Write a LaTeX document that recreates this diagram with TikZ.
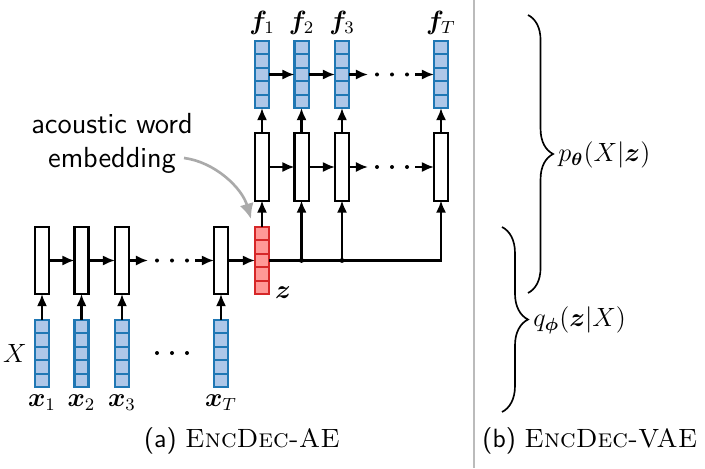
\documentclass[tikz,border=0pt]{standalone}
\usepackage{amsmath,bm}
\usetikzlibrary{arrows.meta,decorations.pathreplacing,calc}
\definecolor{vblue}{HTML}{1F77B4}
\definecolor{vbluefill}{HTML}{AEC7E8}
\definecolor{vred}{HTML}{D62728}
\definecolor{vredfill}{HTML}{FF9896}
\definecolor{agray}{HTML}{AAAAAA}
\definecolor{sgray}{HTML}{BBBBBB}
\newcommand\mycells[2]{\foreach \i in {1,...,4}{\draw[#2,line width=0.9pt] ($(#1.north west)!\i/5!(#1.south west)$) -- ($(#1.north east)!\i/5!(#1.south east)$);}}
\begin{document}
\begin{tikzpicture}[x=0.4545pt,y=-0.4545pt,
 font=\fontsize{12}{14.4}\selectfont,
 cellbox/.style={draw,line width=0.95pt,fill=white,minimum width=6.4pt,minimum height=30.5pt,inner sep=0pt,outer sep=0pt},
 vecb/.style={cellbox,draw=vblue,fill=vbluefill},
 vecr/.style={cellbox,draw=vred,fill=vredfill},
 arr/.style={-{Latex[length=5.5pt,width=4.6pt]},line width=0.95pt},
 lbl/.style={inner sep=0pt}]
\useasboundingbox (0,0) rectangle (705,468);
% encoder
\foreach \n/\x in {e1/42,e2/81.5,e3/122,eT/221}{
  \node[cellbox] (\n) at (\x,260.5) {};
}
\node[vecr] (z) at (262,260.5) {};
\mycells{z}{vred}
\foreach \n/\x in {x1/42,x2/81.5,x3/122,xT/221}{
  \node[vecb] (\n) at (\x,353.5) {};
  \mycells{\n}{vblue}
}
% decoder
\foreach \n/\x in {d1/262,d2/301.5,d3/342,dT/441}{
  \node[cellbox] (\n) at (\x,167) {};
}
\foreach \n/\x in {f1/262,f2/301.5,f3/342,fT/441}{
  \node[vecb] (\n) at (\x,74.5) {};
  \mycells{\n}{vblue}
}
% encoder arrows
\draw[arr] (e1.east) -- (e2.west);
\draw[arr] (e2.east) -- (e3.west);
\coordinate (ea) at (148,260.5);
\coordinate (eb) at (195,260.5);
\draw[arr] (e3.east) -- (ea);
\draw[arr] (eb) -- (eT.west);
\draw[arr] (eT.east) -- (z.west);
\foreach \a/\b in {x1/e1,x2/e2,x3/e3,xT/eT}{\draw[arr] (\a.north) -- (\b.south);}
\foreach \x in {157,172,187}{\fill (\x,260.5) circle (2); \fill (\x,353) circle (2);}
% decoder arrows
\draw[arr] (z.north) -- (d1.south);
\draw[arr] (z.east) -| (dT.south);
\draw[arr] (d2.south |- z.east) -- (d2.south);
\draw[arr] (d3.south |- z.east) -- (d3.south);
\fill (d2.south |- z.east) circle (2.4);
\fill (d3.south |- z.east) circle (2.4);
\draw[arr] (d1.east) -- (d2.west);
\draw[arr] (d2.east) -- (d3.west);
\draw[arr] (f1.east) -- (f2.west);
\draw[arr] (f2.east) -- (f3.west);
\coordinate (da) at (368,167);
\coordinate (db) at (415,167);
\coordinate (fa) at (368,74.5);
\coordinate (fb) at (415,74.5);
\draw[arr] (d3.east) -- (da);
\draw[arr] (db) -- (dT.west);
\draw[arr] (f3.east) -- (fa);
\draw[arr] (fb) -- (fT.west);
\foreach \x in {377,392,407}{\fill (\x,167) circle (2); \fill (\x,74.5) circle (2);}
\foreach \a/\b in {d1/f1,d2/f2,d3/f3,dT/fT}{\draw[arr] (\a.north) -- (\b.south);}
% labels
\foreach \n/\x/\t in {lx1/42/1,lx2/81.5/2,lx3/122/3,lxT/221/T}{
  \node[lbl] (\n) at (\x,403) {$\bm{x}_{\t}$};
}
\foreach \n/\x/\t in {lf1/262/1,lf2/301.5/2,lf3/342/3,lfT/441/T}{
  \node[lbl] (\n) at (\x,23) {$\bm{f}_{\t}$};
}
\node[lbl] (lX) at (15,353) {$X$};
\node[lbl] (lz) at (283,293) {$\bm{z}$};
\node[lbl,align=center,font=\sffamily\fontsize{13.2}{15.5}\selectfont] (awe) at (112,143) {acoustic word\\embedding};
\coordinate (awestart) at (184,158);
\coordinate (aweend) at (251,219);
\draw[agray,line width=1.2pt,-{Latex[length=7pt,width=6.5pt]}] (awestart) .. controls (215,162) and (242,188) .. (aweend);
% separator
\draw[sgray,line width=0.9pt] (474,0) -- (474,468);
% braces
\draw[line width=0.75pt,decorate,decoration={brace,amplitude=11.4pt}] (528,15) -- (528,293);
\draw[line width=0.75pt,decorate,decoration={brace,amplitude=11.8pt}] (502,227) -- (502,412);
\node[lbl,anchor=west] (lp) at (558,155) {$p_{\bm{\theta}}(X|\bm{z})$};
\node[lbl,anchor=west] (lq) at (533,320) {$q_{\bm{\phi}}(\bm{z}|X)$};
% captions
\node[lbl] (capa) at (242,441) {\textsf{(a)} \textsc{EncDec-AE}};
\node[lbl] (capb) at (590,441) {\textsf{(b)} \textsc{EncDec-VAE}};
\end{tikzpicture}
\end{document}
